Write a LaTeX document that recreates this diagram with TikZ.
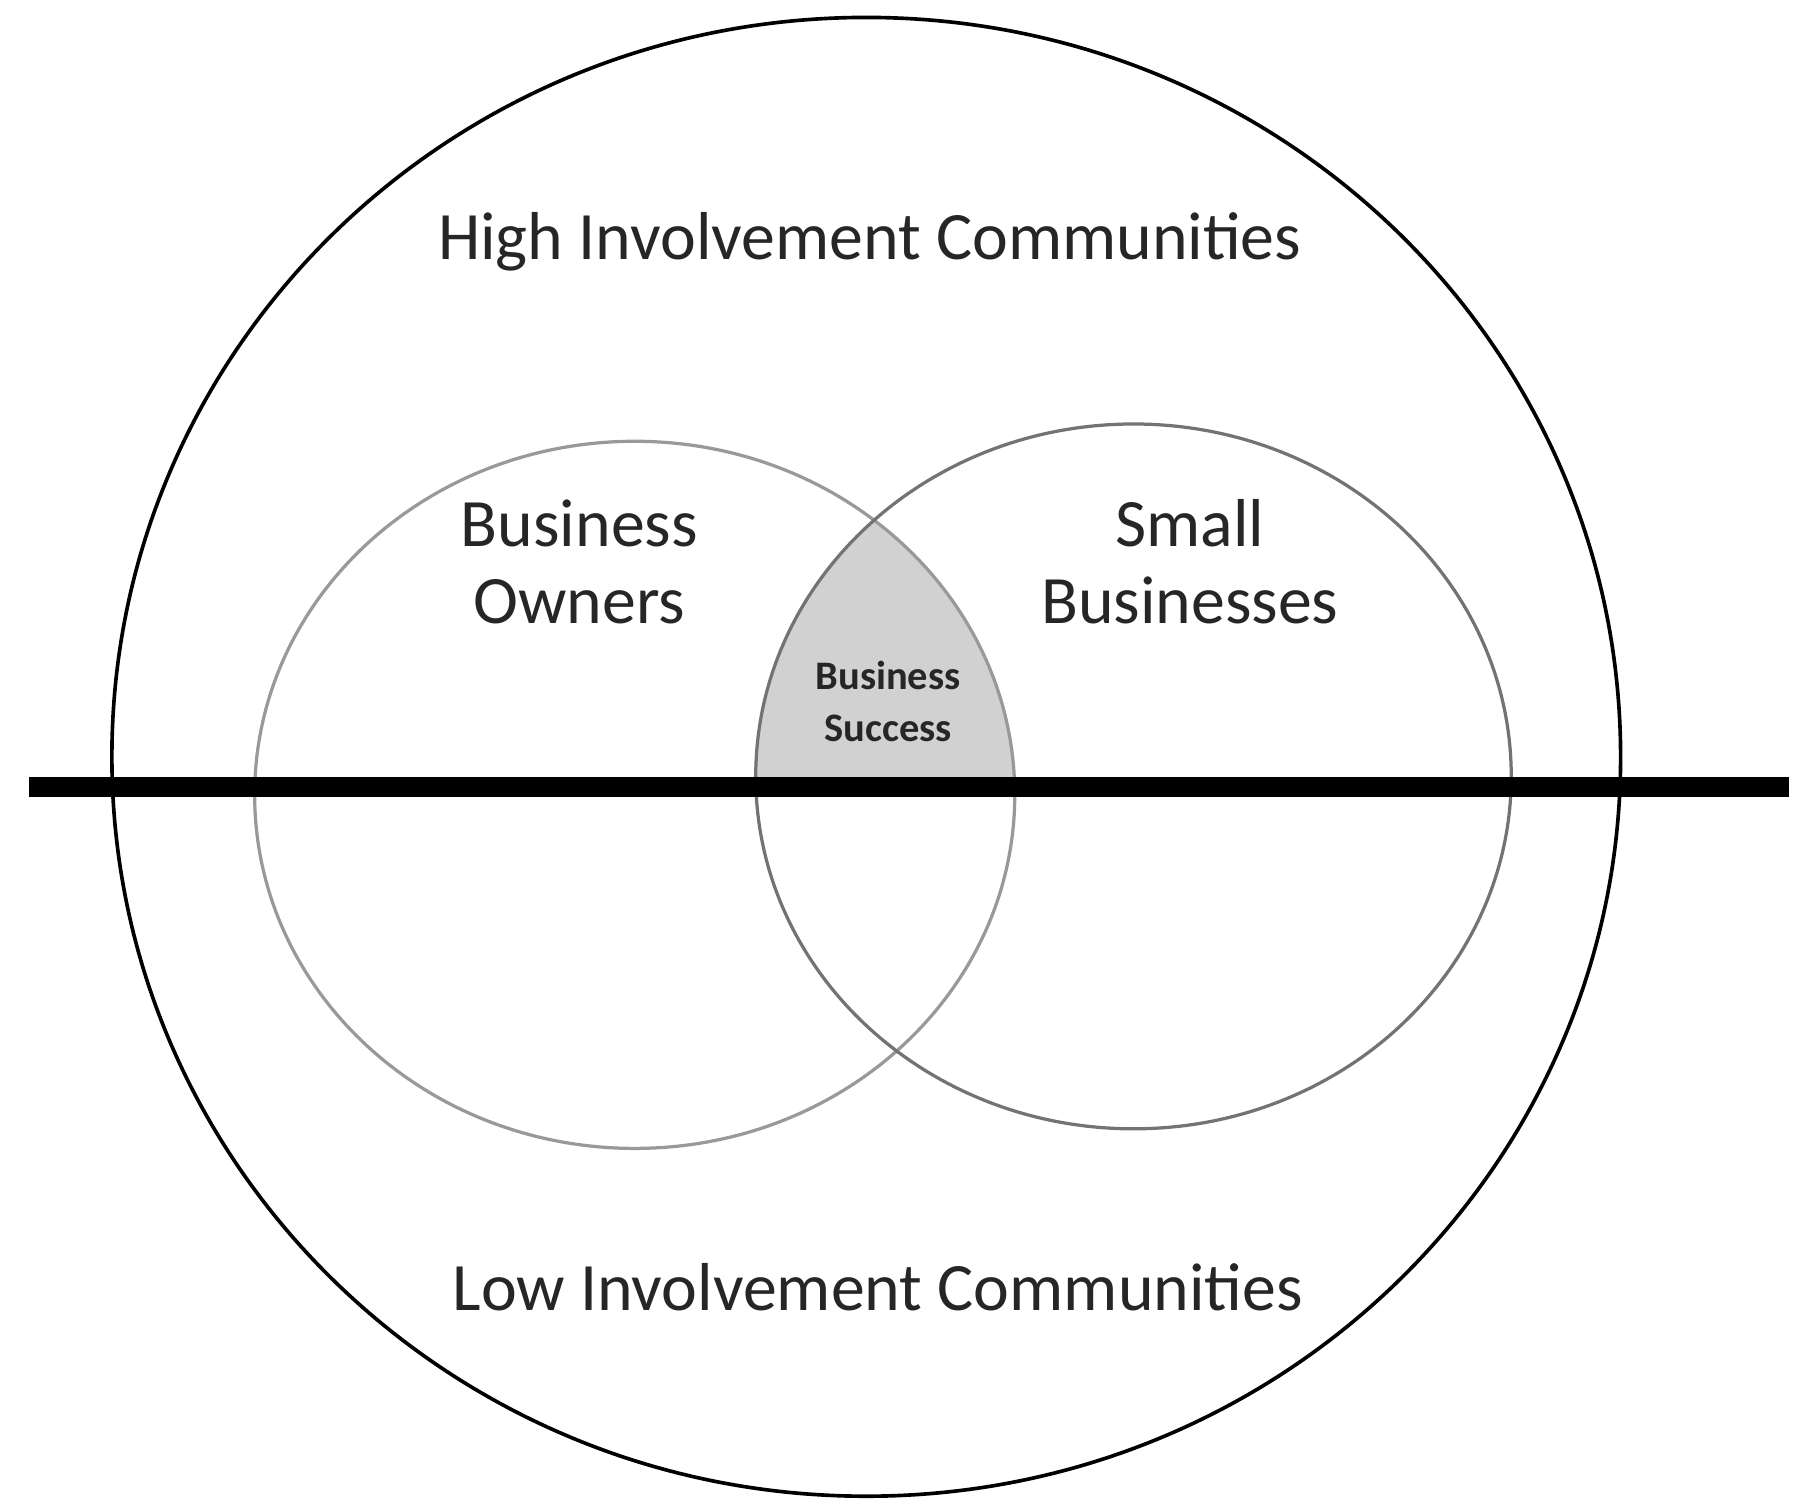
\documentclass[tikz,border=0pt]{standalone}
\usepackage{fontspec}
\setmainfont{Carlito}
\begin{document}
\begin{tikzpicture}[x=0.02cm,y=-0.02cm,
  big/.style={font=\fontsize{33.5}{38}\selectfont,align=center,text=black!85},
  small/.style={font=\bfseries\fontsize{20}{26}\selectfont,align=center,text=black!85}]
\useasboundingbox (0,0) rectangle (1560,1306);
\coordinate (oc) at (752,657);
\coordinate (lc) at (551,690);
\coordinate (rc) at (984,674);
\begin{scope}
\clip (0,0) rectangle (1560,683);
\clip (lc) ellipse [x radius=6.6cm, y radius=6.14cm];
\fill[black!18] (rc) ellipse [x radius=6.56cm, y radius=6.12cm];
\end{scope}
\draw[black!40,line width=1.6pt] (lc) ellipse [x radius=6.6cm, y radius=6.14cm];
\draw[black!55,line width=1.6pt] (rc) ellipse [x radius=6.56cm, y radius=6.12cm];
\draw[black,line width=1.8pt] (oc) ellipse [x radius=13.1cm, y radius=12.84cm];
\coordinate (la) at (25,683);
\coordinate (lb) at (1553,683);
\draw[line width=10pt] (la) -- (lb);
\node[big] (hi) at (755,210) {High Involvement Communities};
\node[big] (lo) at (762,1117) {Low Involvement Communities};
\node[big] (bo) at (503,488) {Business\\Owners};
\node[big] (sb) at (1033,488) {Small\\Businesses};
\node[small] (bs) at (771,609) {Business\\Success};
\end{tikzpicture}
\end{document}
